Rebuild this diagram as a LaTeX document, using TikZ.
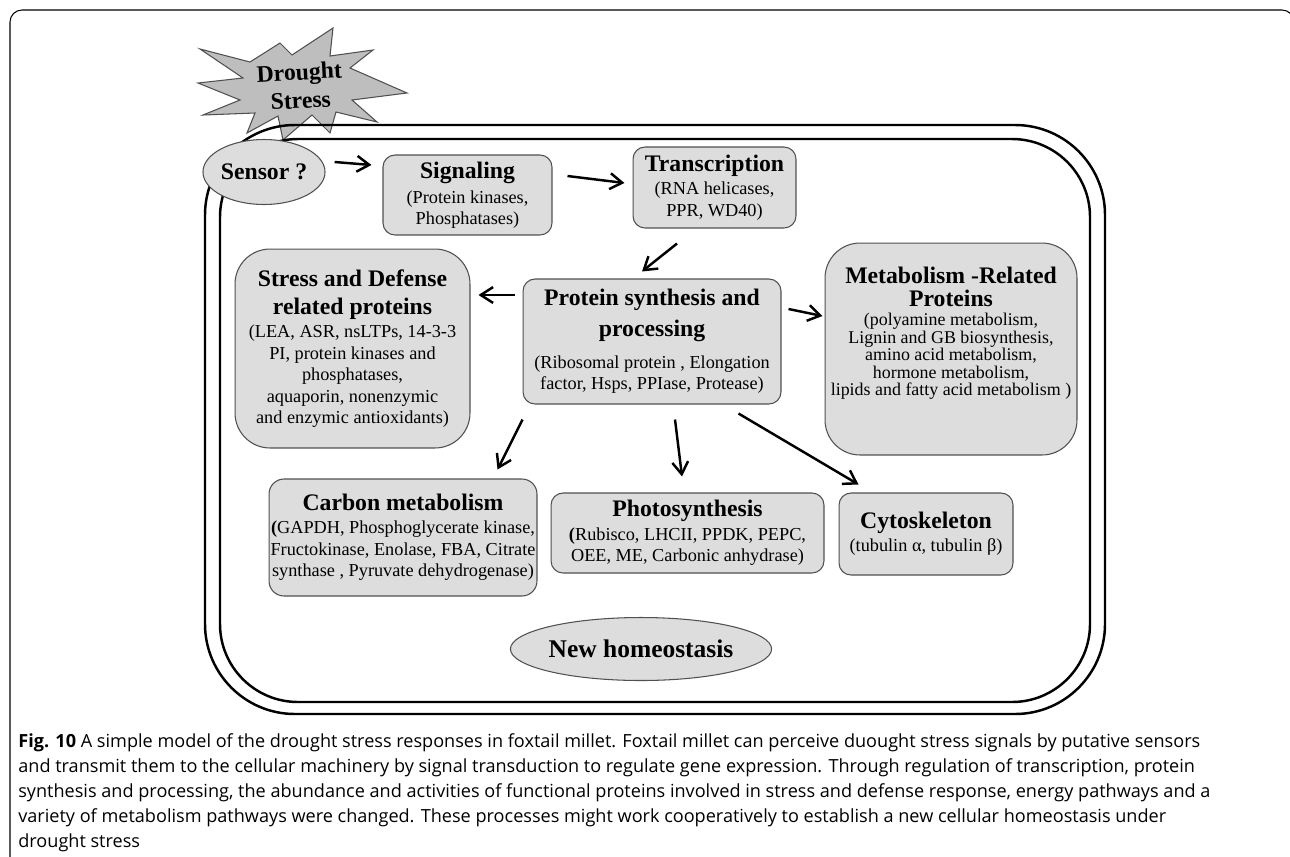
\documentclass[tikz,border=0pt]{standalone}
\usepackage{fontspec}
\setmainfont{Liberation Serif}
\newfontfamily\capfont{Open Sans}
\usetikzlibrary{arrows.meta,calc,shapes.geometric}

\definecolor{boxgray}{RGB}{221,221,221}
\definecolor{edgegray}{RGB}{80,80,80}
\definecolor{stargray}{RGB}{190,190,190}

\newcommand{\ttl}[1]{{\fontsize{13.5}{16}\selectfont\bfseries #1}}

\tikzset{
  box/.style={draw=edgegray,fill=boxgray,line width=0.6pt,rounded corners=0.24cm,
    align=center,inner sep=0pt,font=\fontsize{10.4}{12.2}\selectfont},
  bigbox/.style={box,rounded corners=0.7cm},
  blob/.style={ellipse,draw=edgegray,fill=boxgray,line width=0.6pt,inner sep=0pt},
  cellwall/.style={line width=1.4pt},
  arr/.style={-{Straight Barb[length=7pt,width=9pt,line width=1.4pt]},line width=1.4pt},
}

\begin{document}
\begin{tikzpicture}[x=0.02cm,y=-0.02cm]
  \useasboundingbox (0,0) rectangle (1290,856);
  % page frame
  \draw[line width=0.6pt,rounded corners=0.24cm] (10,900) -- (10,10) -- (1294,10) -- (1294,900);

  % drought stress burst
  \draw[draw=edgegray,fill=stargray,line width=0.6pt]
    (200,49) -- (250,62) -- (280,43) -- (292,55) -- (333,28) -- (330,56)
    -- (373,50) -- (350,68) -- (407,93) -- (352,100) -- (377,122) -- (336,112)
    -- (330,133) -- (312,115) -- (283,140) -- (278,116) -- (247,133) -- (255,113)
    -- (203,115) -- (240,100) -- (198,83) -- (243,78) -- cycle;
  \node[rotate=3,align=center,font=\fontsize{13.5}{16}\selectfont\bfseries] (drought) at (300,86) {Drought\\Stress};

  % cell
  \draw[cellwall,rounded corners=1.8cm] (205,125) rectangle (1105,714);
  \draw[cellwall,rounded corners=1.56cm] (220,139) rectangle (1090,702);

  \node[blob,minimum width=2.36cm,minimum height=1.3cm] (sensor) at (264,172) {\ttl{Sensor ?}};
  \node[box,minimum width=3.38cm,minimum height=1.6cm] (sig) at (467.5,195)
    {\ttl{Signaling}\\[2pt](Protein kinases,\\Phosphatases)};
  \node[box,minimum width=3.26cm,minimum height=1.62cm] (trans) at (714.5,187.5)
    {\ttl{Transcription}\\[1pt](RNA helicases,\\PPR, WD40)};
  \node[box,minimum width=5.16cm,minimum height=2.5cm] (prot) at (652,341.5)
    {\ttl{Protein synthesis and}\\[4pt]\ttl{processing}\\[6pt](Ribosomal protein , Elongation\\factor, Hsps, PPIase, Protease)};
  \node[bigbox,minimum width=4.7cm,minimum height=3.98cm] (stress) at (352.5,348.5)
    {\ttl{Stress and Defense}\\[4pt]\ttl{related proteins}\\[1pt](LEA, ASR, nsLTPs, 14-3-3\\PI, protein kinases and\\phosphatases,\\aquaporin, nonenzymic\\and enzymic antioxidants)};
  \node[bigbox,minimum width=5.04cm,minimum height=4.24cm,font=\fontsize{10.2}{10}\selectfont] (meta) at (951,349)
    {\ttl{Metabolism -Related}\\[3pt]\ttl{Proteins}\\[1pt](polyamine metabolism,\\Lignin and GB biosynthesis,\\amino acid metabolism,\\hormone metabolism,\\lipids and fatty acid metabolism )\\[10pt]};
  \node[box,rounded corners=0.3cm,minimum width=5.36cm,minimum height=2.34cm] (carbon) at (403,537.5)
    {\ttl{Carbon metabolism}\\[1pt]\textbf{(}GAPDH, Phosphoglycerate kinase,\\Fructokinase, Enolase, FBA, Citrate\\synthase , Pyruvate dehydrogenase)};
  \node[box,minimum width=5.46cm,minimum height=1.6cm] (photo) at (687.5,533)
    {\ttl{Photosynthesis}\\[1pt]\textbf{(}Rubisco, LHCII, PPDK, PEPC,\\OEE, ME, Carbonic anhydrase)};
  \node[box,minimum width=3.48cm,minimum height=1.64cm] (cyto) at (926,534)
    {\ttl{Cytoskeleton}\\[1pt](tubulin α, tubulin β)};
  \node[blob,minimum width=4.76cm,minimum height=1.26cm] (home) at (641,649)
    {{\fontsize{14.5}{16}\selectfont\bfseries New homeostasis}};

  \draw[arr] ($(sensor.east)+(9,-10)$) -- ($(sig.west)+(-11,-30)$);
  \draw[arr] ($(sig.east)+(15,-19)$) -- ($(trans.west)+(-8,-4.5)$);
  \draw[arr] ($(trans.south)+(-37.5,15)$) -- ($(prot.north)+(-10,-7)$);
  \draw[arr] ($(prot.west)+(-8,-46.5)$) -- ($(stress.east)+(8,-53.5)$);
  \draw[arr] ($(prot.east)+(7,-32.5)$) -- ($(meta.west)+(-2,-33)$);
  \draw[arr] ($(prot.south west)+(0,15)$) -- ($(carbon.north east)+(-40,-9)$);
  \draw[arr] ($(prot.south)+(23,15)$) -- ($(photo.north)+(-5.5,-16)$);
  \draw[arr] ($(prot.south east)+(-43,9)$) -- ($(cyto.north west)+(20,-8)$);

  \node[anchor=north west,align=left,inner sep=0pt,font=\capfont\fontsize{10.3}{14.3}\selectfont] (caption) at (18,733)
    {\textbf{Fig. 10} A simple model of the drought stress responses in foxtail millet. Foxtail millet can perceive duought stress signals by putative sensors\\
     and transmit them to the cellular machinery by signal transduction to regulate gene expression. Through regulation of transcription, protein\\
     synthesis and processing, the abundance and activities of functional proteins involved in stress and defense response, energy pathways and a\\
     variety of metabolism pathways were changed. These processes might work cooperatively to establish a new cellular homeostasis under\\
     drought stress};
\end{tikzpicture}
\end{document}
